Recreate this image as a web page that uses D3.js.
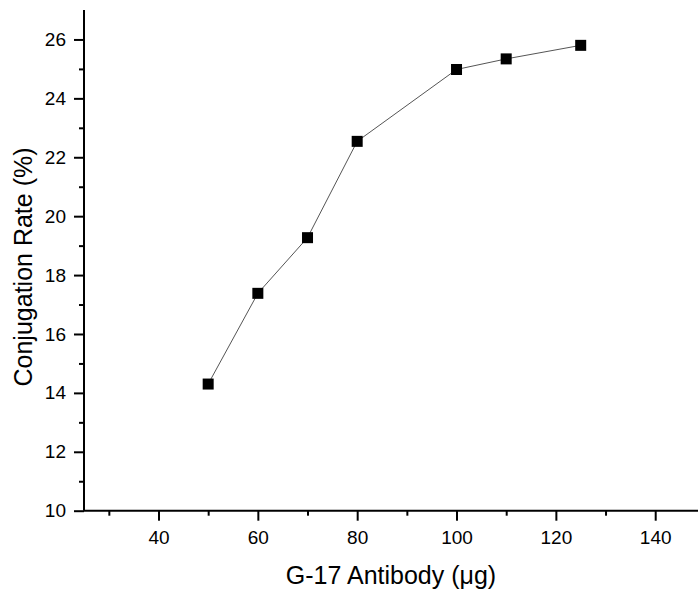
<!DOCTYPE html>
<html><head><meta charset="utf-8">
<script src="https://cdn.jsdelivr.net/npm/d3@7"></script>
<style>body{margin:0;background:#fff}svg{display:block}</style>
</head><body><svg id="c" width="698" height="593"></svg>
<script>
const antibody = [50, 60, 70, 80, 100, 110, 125];
const rate = [14.30, 17.38, 19.27, 22.54, 24.98, 25.34, 25.80];
const xTicks = [40, 60, 80, 100, 120, 140];
const xMinor = [30, 50, 70, 90, 110, 130, 150];
const yTicks = [10, 12, 14, 16, 18, 20, 22, 24, 26];
const yMinor = [11, 13, 15, 17, 19, 21, 23, 25];
const xTitle = "G-17 Antibody (μg)";
const yTitle = "Conjugation Rate (%)";

const svg = d3.select("#c");
const font = "'Liberation Sans', Arial, sans-serif";
const x = d3.scaleLinear().domain([25, 150]).range([84, 84 + 125 * 4.967]);
const y = d3.scaleLinear().domain([10, 27]).range([510.7, 10]);

const gx = svg.append("g").attr("transform", `translate(0,${y(10)})`);
gx.call(d3.axisBottom(x).tickValues(xMinor).tickSize(5).tickFormat(""));
gx.call(g => g.select(".domain").remove());
const gx2 = svg.append("g").attr("transform", `translate(0,${y(10)})`);
gx2.call(d3.axisBottom(x).tickValues(xTicks).tickSize(10).tickPadding(10));
gx2.select(".domain").attr("d", `M${x(25)},0H${x(150)}`);
[gx, gx2].forEach(g => {
  g.selectAll("line").attr("stroke", "#000").attr("stroke-width", 2);
  g.selectAll(".domain").attr("stroke", "#000").attr("stroke-width", 2);
  g.selectAll("text").attr("font-family", font).attr("font-size", 19).attr("fill", "#000");
});

const gy = svg.append("g").attr("transform", `translate(${x(25)},0)`);
gy.call(d3.axisLeft(y).tickValues(yMinor).tickSize(5).tickFormat(""));
gy.call(g => g.select(".domain").remove());
const gy2 = svg.append("g").attr("transform", `translate(${x(25)},0)`);
gy2.call(d3.axisLeft(y).tickValues(yTicks).tickSize(10).tickPadding(8));
gy2.select(".domain").attr("d", `M0,${y(27)}V${y(10)}`);
[gy, gy2].forEach(g => {
  g.selectAll("line").attr("stroke", "#000").attr("stroke-width", 2);
  g.selectAll(".domain").attr("stroke", "#000").attr("stroke-width", 2);
  g.selectAll("text").attr("font-family", font).attr("font-size", 19).attr("fill", "#000");
});

const pts = antibody.map((a, i) => [a, rate[i]]);
svg.append("path").datum(pts)
  .attr("d", d3.line().x(d => x(d[0])).y(d => y(d[1])))
  .attr("fill", "none").attr("stroke", "#555").attr("stroke-width", 1);
svg.selectAll("rect.pt").data(pts).enter().append("rect").attr("class", "pt")
  .attr("x", d => x(d[0]) - 5.5).attr("y", d => y(d[1]) - 5.5)
  .attr("width", 11).attr("height", 11).attr("fill", "#000");

svg.append("text").attr("x", 391).attr("y", 584).attr("text-anchor", "middle")
  .attr("font-family", font).attr("font-size", 25).text(xTitle);
svg.append("text").attr("transform", "translate(32,267) rotate(-90)").attr("text-anchor", "middle")
  .attr("font-family", font).attr("font-size", 25).text(yTitle);
</script></body></html>
